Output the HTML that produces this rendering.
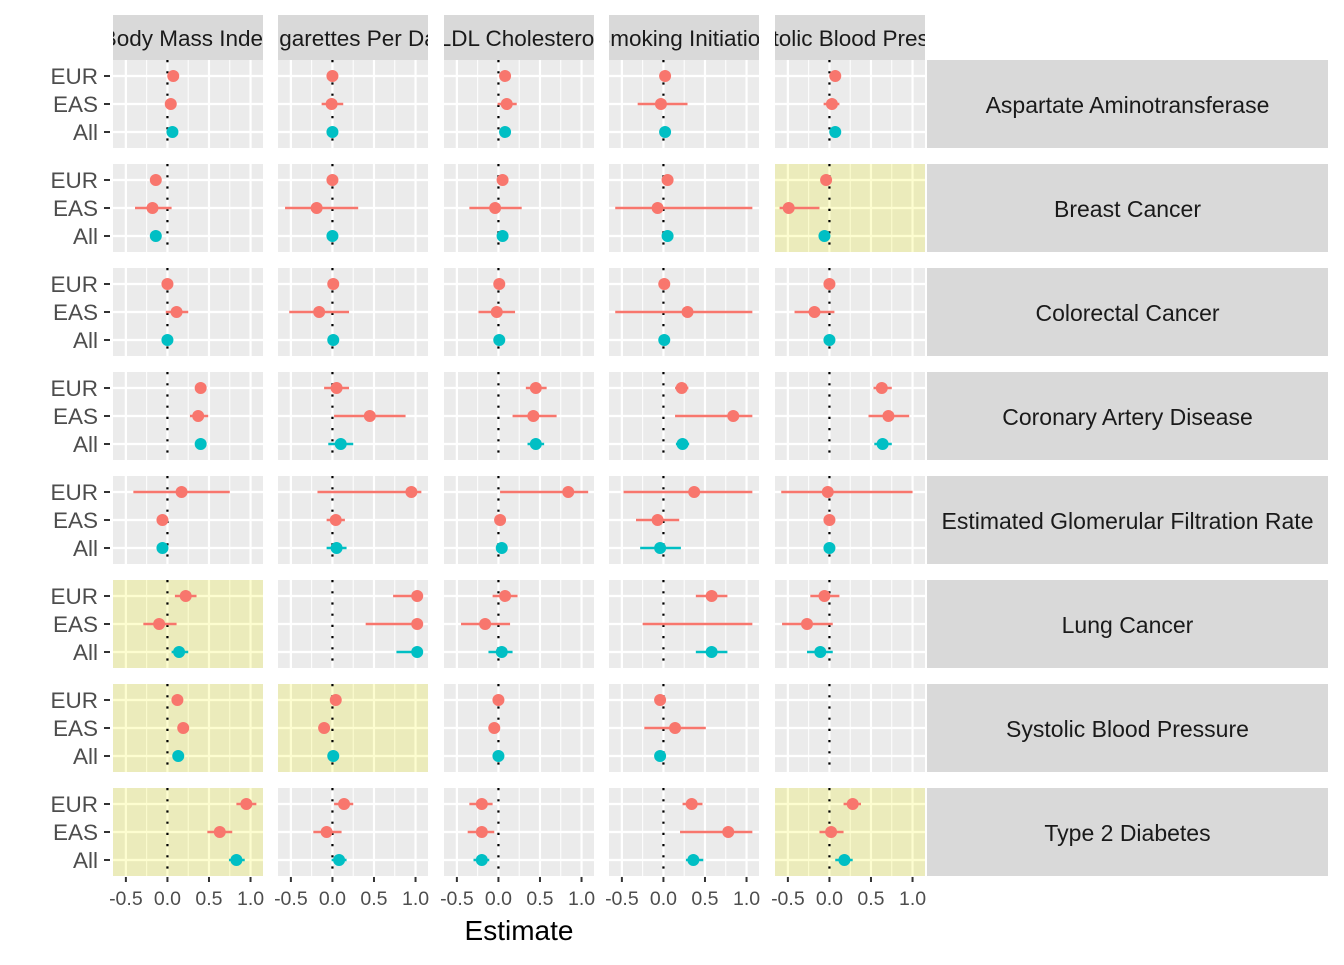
<!DOCTYPE html>
<html><head><meta charset="utf-8"><style>
body{margin:0;background:#fff;}
svg text{font-family:"Liberation Sans",Arial,sans-serif;}
</style></head><body>
<svg id="chart" width="1344" height="960" xmlns="http://www.w3.org/2000/svg"></svg>
<script>
const exposures = ["Body Mass Index","Cigarettes Per Day","LDL Cholesterol","Smoking Initiation","Diastolic Blood Pressure"];
const outcomes = ["Aspartate Aminotransferase","Breast Cancer","Colorectal Cancer","Coronary Artery Disease","Estimated Glomerular Filtration Rate","Lung Cancer","Systolic Blood Pressure","Type 2 Diabetes"];
const groups = ["EUR","EAS","All"];
const xTicks = [-0.5,0,0.5,1];
const xTickLabels = ["-0.5","0.0","0.5","1.0"];
// highlighted panels [row, col]
const highlighted = [[1,4],[5,0],[6,0],[6,1],[7,0],[7,4]];
// estimates [row][col][group] = [est, lo, hi]; null = missing
const estimates = [
 [[[0.07,0.05,0.09],[0.04,0.02,0.06],[0.06,0.05,0.07]],[[0,-0.02,0.02],[-0.01,-0.13,0.13],[0,-0.01,0.01]],[[0.08,0.06,0.1],[0.1,-0.01,0.22],[0.08,0.07,0.09]],[[0.02,0,0.04],[-0.03,-0.31,0.29],[0.02,0.01,0.03]],[[0.07,0.05,0.09],[0.03,-0.07,0.12],[0.07,0.06,0.08]]],
 [[[-0.14,-0.16,-0.12],[-0.18,-0.39,0.05],[-0.14,-0.15,-0.13]],[[0,-0.02,0.02],[-0.19,-0.57,0.31],[0,-0.01,0.01]],[[0.05,0.03,0.07],[-0.04,-0.35,0.28],[0.05,0.04,0.06]],[[0.05,0.01,0.09],[-0.07,-0.58,1.07],[0.05,0.01,0.09]],[[-0.04,-0.06,-0.02],[-0.49,-0.6,-0.12],[-0.06,-0.07,-0.05]]],
 [[[0,-0.02,0.02],[0.11,-0.02,0.25],[0,-0.01,0.01]],[[0.01,-0.01,0.03],[-0.16,-0.52,0.2],[0.01,0,0.02]],[[0.01,-0.01,0.03],[-0.02,-0.24,0.2],[0.01,0,0.02]],[[0.01,-0.01,0.03],[0.29,-0.58,1.07],[0.01,0,0.02]],[[0,-0.01,0.01],[-0.18,-0.42,0.06],[0,-0.01,0.01]]],
 [[[0.4,0.38,0.42],[0.37,0.27,0.49],[0.4,0.38,0.42]],[[0.05,-0.1,0.2],[0.45,0.02,0.88],[0.1,-0.05,0.25]],[[0.45,0.33,0.58],[0.42,0.17,0.7],[0.45,0.35,0.55]],[[0.22,0.14,0.3],[0.84,0.14,1.07],[0.23,0.15,0.31]],[[0.63,0.53,0.75],[0.71,0.47,0.96],[0.64,0.54,0.75]]],
 [[[0.17,-0.41,0.75],[-0.06,-0.08,-0.04],[-0.06,-0.08,-0.04]],[[0.95,-0.18,1.07],[0.04,-0.07,0.15],[0.05,-0.07,0.17]],[[0.84,0.02,1.08],[0.02,0,0.04],[0.04,0.02,0.06]],[[0.37,-0.48,1.07],[-0.07,-0.33,0.19],[-0.04,-0.28,0.21]],[[-0.02,-0.58,1.0],[0,-0.01,0.01],[0,-0.01,0.01]]],
 [[[0.22,0.09,0.35],[-0.1,-0.29,0.11],[0.14,0.05,0.25]],[[1.02,0.73,1.07],[1.02,0.4,1.07],[1.02,0.77,1.07]],[[0.08,-0.07,0.23],[-0.16,-0.45,0.14],[0.04,-0.12,0.17]],[[0.58,0.39,0.77],[1.5,-0.25,1.07],[0.58,0.39,0.77]],[[-0.06,-0.23,0.12],[-0.27,-0.57,0.04],[-0.11,-0.27,0.04]]],
 [[[0.12,0.1,0.14],[0.19,0.17,0.21],[0.13,0.12,0.14]],[[0.04,0.02,0.06],[-0.1,-0.12,-0.08],[0.01,0,0.02]],[[0,-0.02,0.02],[-0.05,-0.07,-0.03],[0,-0.01,0.01]],[[-0.04,-0.06,-0.02],[0.14,-0.23,0.51],[-0.04,-0.05,-0.03]],null],
 [[[0.95,0.83,1.07],[0.63,0.48,0.78],[0.83,0.74,0.93]],[[0.14,0.02,0.25],[-0.07,-0.23,0.11],[0.08,-0.01,0.17]],[[-0.2,-0.35,-0.07],[-0.2,-0.37,-0.05],[-0.2,-0.3,-0.11]],[[0.34,0.23,0.47],[0.78,0.2,1.07],[0.36,0.27,0.48]],[[0.28,0.17,0.38],[0.02,-0.12,0.17],[0.18,0.07,0.28]]]
];
const NS="http://www.w3.org/2000/svg";
const svg=document.getElementById('chart');
function mk(tag,attrs,parent){const e=document.createElementNS(NS,tag);for(const k in attrs)e.setAttribute(k,attrs[k]);(parent||svg).appendChild(e);return e;}
const colLeft=[113,278,444,609,775], PW=150, PH=88;
const rowTop=[60,164,268,372,476,580,684,788];
const XMIN=-0.655, XMAX=1.15;
function xs(c,v){return colLeft[c]+(v-XMIN)/(XMAX-XMIN)*PW;}
function ys(r,g){return rowTop[r]+16+28*g;}
const isHi=(r,c)=>highlighted.some(h=>h[0]===r&&h[1]===c);
const RED="#F8766D", TEAL="#00BFC4";
function gr(i){return groups[i].toLowerCase();}
exposures.forEach((ex,c)=>{
  const s=mk('svg',{x:colLeft[c],y:15,width:PW,height:45,overflow:'hidden'});
  
  
  mk('rect',{x:0,y:0,width:PW,height:45,fill:'#D9D9D9'},s);
  const t=mk('text',{x:PW/2,y:31,'text-anchor':'middle','font-size':22.5,fill:'#1A1A1A'},s);t.textContent=ex;
});
outcomes.forEach((o,r)=>{
  const g=mk('g',{});
  
  
  mk('rect',{x:927,y:rowTop[r],width:401,height:PH,fill:'#D9D9D9'},g);
  const t=mk('text',{x:1127.5,y:rowTop[r]+53,'text-anchor':'middle','font-size':23,fill:'#1A1A1A'},g);t.textContent=o;
  groups.forEach((grp,gi)=>{
    const lt=mk('text',{x:98,y:ys(r,gi)+8,'text-anchor':'end','font-size':22.5,fill:'#4D4D4D'});lt.textContent=grp;
    mk('line',{x1:104,x2:110,y1:ys(r,gi),y2:ys(r,gi),stroke:'#333','stroke-width':2});
  });
  exposures.forEach((ex,c)=>{
    const p=mk('g',{});
    
    
    const hi=isHi(r,c);
    mk('rect',{x:colLeft[c],y:rowTop[r],width:PW,height:PH,fill:hi?'#EBEBBB':'#EBEBEB'},p);
    const gc=hi?'#FDFDD0':'#FFFFFF';
    [-0.25,0.25,0.75].forEach(v=>mk('line',{x1:xs(c,v),x2:xs(c,v),y1:rowTop[r],y2:rowTop[r]+PH,stroke:gc,'stroke-width':1},p));
    xTicks.forEach(v=>mk('line',{x1:xs(c,v),x2:xs(c,v),y1:rowTop[r],y2:rowTop[r]+PH,stroke:gc,'stroke-width':2.2},p));
    groups.forEach((grp,gi)=>mk('line',{x1:colLeft[c],x2:colLeft[c]+PW,y1:ys(r,gi),y2:ys(r,gi),stroke:gc,'stroke-width':2.2},p));
    mk('line',{x1:xs(c,0),x2:xs(c,0),y1:rowTop[r],y2:rowTop[r]+PH,stroke:'#000','stroke-width':2.2,'stroke-dasharray':'2.2 9'},p);
    const d=estimates[r][c];
    if(!d)return;
    const cl=mk('svg',{x:colLeft[c],y:rowTop[r],width:PW,height:PH,overflow:'hidden'},p);
    d.forEach((e,gi)=>{
      const col=gi===2?TEAL:RED;
      const y=ys(r,gi)-rowTop[r];
      const l=mk('line',{x1:xs(c,e[1])-colLeft[c],x2:xs(c,e[2])-colLeft[c],y1:y,y2:y,stroke:col,'stroke-width':2.5},cl);
      
      
      const pt=mk('circle',{cx:xs(c,e[0])-colLeft[c],cy:y,r:6,fill:col},cl);
      
      
    });
  });
});
exposures.forEach((ex,c)=>{
  xTicks.forEach((v,i)=>{
    mk('line',{x1:xs(c,v),x2:xs(c,v),y1:877,y2:882,stroke:'#333','stroke-width':2});
    const t=mk('text',{x:xs(c,v),y:905,'text-anchor':'middle','font-size':19.5,fill:'#4D4D4D'});t.textContent=xTickLabels[i];
  });
});
const xt=mk('text',{x:519,y:940,'text-anchor':'middle','font-size':28,fill:'#000'});


xt.textContent='Estimate';
</script>
</body></html>
